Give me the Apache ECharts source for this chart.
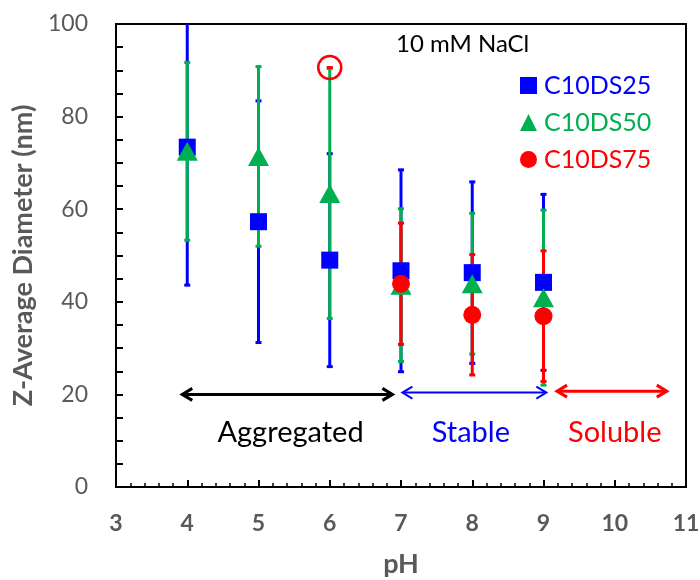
<!DOCTYPE html>
<html><head><meta charset="utf-8">
<script src="https://cdn.jsdelivr.net/npm/echarts@6/dist/echarts.min.js"></script>
<style>html,body{margin:0;padding:0;background:#fff}#c{width:700px;height:580px}</style>
</head><body><div id="c"></div>
<script>
// ---- data ----
const pH = [4, 5, 6, 7, 8, 9];
const ds25Mean = [73.4, 57.3, 49.0, 46.7, 46.3, 44.2];
const ds25Err  = [29.8, 26.1, 23.0, 21.8, 19.6, 19.0];
const ds50Mean = [72.5, 71.4, 63.4, 43.6, 43.9, 40.9];
const ds50Err  = [19.2, 19.4, 27.0, 16.5, 15.2, 18.9];
const ds75pH   = [7, 8, 9];
const ds75Mean = [43.9, 37.2, 36.9];
const ds75Err  = [13.1, 13.0, 14.1];
const seriesNames = ['C10DS25', 'C10DS50', 'C10DS75'];
const xTicks = [3, 4, 5, 6, 7, 8, 9, 10, 11];
const yTicks = [0, 20, 40, 60, 80, 100];
// annotations (data units)
const highlightPoint = [6, 90.6];
const regionNames = ['Aggregated', 'Stable', 'Soluble'];
const regionFrom  = [3.93, 7.02, 9.19];
const regionTo    = [6.88, 9.04, 10.73];
const regionArrowY = [20.0, 20.4, 20.7];
const regionTextX = [5.45, 7.98, 10.0];
const regionTextY = 11.7;

const BLUE = '#0000FF', GREEN = '#00B050', RED = '#FF0000';
const regionColors = ['#000000', BLUE, RED];
const FONT = 'Lato';

function errSeries(name, xs, means, errs, color, lw) {
  return {
    name: name + ' err', type: 'custom', z: 2, clip: true,
    data: xs.map((x, i) => [x, means[i], errs[i]]),
    renderItem: function (params, api) {
      const x = api.value(0), m = api.value(1), e = api.value(2);
      const t = api.coord([x, m + e]), b = api.coord([x, m - e]);
      const cw = 3;
      return { type: 'group', children: [
        { type: 'line', shape: { x1: t[0], y1: t[1], x2: b[0], y2: b[1] }, style: { stroke: color, lineWidth: lw } },
        { type: 'line', shape: { x1: t[0] - cw, y1: t[1], x2: t[0] + cw, y2: t[1] }, style: { stroke: color, lineWidth: 3 } },
        { type: 'line', shape: { x1: b[0] - cw, y1: b[1], x2: b[0] + cw, y2: b[1] }, style: { stroke: color, lineWidth: 3 } }
      ]};
    }
  };
}

const chart = echarts.init(document.getElementById('c'));
chart.setOption({
  animation: false,
  backgroundColor: '#fff',
  grid: { left: 116, right: 14, top: 24, bottom: 93, containLabel: false, outerBoundsMode: 'none',
          show: true, borderColor: '#000', borderWidth: 2, backgroundColor: 'transparent' },
  xAxis: {
    type: 'value', min: xTicks[0], max: xTicks[xTicks.length - 1], interval: 1,
    name: 'pH', nameLocation: 'middle', nameGap: 64,
    nameTextStyle: { fontFamily: FONT, fontWeight: 'bold', fontSize: 27, color: '#595959' },
    axisLine: { lineStyle: { color: '#000', width: 2 } },
    axisTick: { inside: true, length: 7, lineStyle: { color: '#000', width: 2 } },
    minorTick: { show: true, splitNumber: 5, length: 4, lineStyle: { color: '#000', width: 1.5 } },
    splitLine: { show: false },
    axisLabel: { margin: 25, fontFamily: FONT, fontWeight: 'bold', fontSize: 23, color: '#595959' }
  },
  yAxis: {
    type: 'value', min: yTicks[0], max: yTicks[yTicks.length - 1], interval: 20,
    name: 'Z-Average Diameter (nm)', nameLocation: 'middle', nameGap: 75,
    nameTextStyle: { fontFamily: FONT, fontWeight: 'bold', fontSize: 27, color: '#595959' },
    axisLine: { lineStyle: { color: '#000', width: 2 } },
    axisTick: { inside: true, length: 7, lineStyle: { color: '#000', width: 2 } },
    minorTick: { show: true, splitNumber: 4, length: 7, lineStyle: { color: '#000', width: 2 } },
    splitLine: { show: false },
    axisLabel: { margin: 28, fontFamily: FONT, fontSize: 23, color: '#595959' }
  },
  legend: {
    orient: 'vertical', left: 515, top: 68, itemGap: 12, itemWidth: 17, itemHeight: 17,
    textStyle: { fontFamily: FONT, fontSize: 25, padding: [0, 0, 0, 2] },
    data: [
      { name: seriesNames[0], icon: 'rect', textStyle: { color: BLUE } },
      { name: seriesNames[1], icon: 'triangle', textStyle: { color: GREEN } },
      { name: seriesNames[2], icon: 'circle', textStyle: { color: RED } }
    ]
  },
  graphic: [
    { type: 'text', left: 396, top: 32, style: { text: '10 mM NaCl', font: '24px Lato', fill: '#000' } }
  ],
  series: [
    errSeries(seriesNames[0], pH, ds25Mean, ds25Err, BLUE, 3),
    errSeries(seriesNames[1], pH, ds50Mean, ds50Err, GREEN, 3),
    errSeries(seriesNames[2], ds75pH, ds75Mean, ds75Err, RED, 3),
    { name: seriesNames[0], type: 'scatter', z: 3, symbol: 'rect', symbolSize: 17, itemStyle: { color: BLUE, opacity: 1 },
      data: pH.map((x, i) => [x, ds25Mean[i]]) },
    { name: seriesNames[1], type: 'scatter', z: 4, symbol: 'triangle', symbolSize: [21, 19], itemStyle: { color: GREEN, opacity: 1 },
      data: pH.map((x, i) => [x, ds50Mean[i]]) },
    { name: seriesNames[2], type: 'scatter', z: 5, symbol: 'circle', symbolSize: 18, itemStyle: { color: RED, opacity: 1 },
      data: ds75pH.map((x, i) => [x, ds75Mean[i]]) },
    { name: 'highlight', type: 'custom', z: 6, data: [highlightPoint],
      renderItem: function (params, api) {
        const p = api.coord([api.value(0), api.value(1)]);
        return { type: 'group', children: [
          { type: 'circle', shape: { cx: p[0], cy: p[1], r: 11.5 }, style: { fill: 'none', stroke: RED, lineWidth: 2.5 } },
          { type: 'rect', shape: { x: p[0] - 3, y: p[1] - 1.5, width: 6, height: 3 }, style: { fill: RED } }
        ]};
      } },
    { name: 'regions', type: 'custom', z: 6,
      data: regionNames.map((n, i) => [regionFrom[i], regionTo[i], regionArrowY[i], regionTextX[i], i]),
      renderItem: function (params, api) {
        const i = api.value(4);
        const a = api.coord([api.value(0), api.value(2)]);
        const b = api.coord([api.value(1), api.value(2)]);
        const t = api.coord([api.value(3), regionTextY]);
        const col = regionColors[i];
        const lw = i === 1 ? 2 : 3;
        const L = 10, H = 6;
        return { type: 'group', children: [
          { type: 'line', shape: { x1: a[0] + 1, y1: a[1], x2: b[0] - 1, y2: b[1] }, style: { stroke: col, lineWidth: lw } },
          { type: 'polyline', shape: { points: [[a[0] + L, a[1] - H], [a[0], a[1]], [a[0] + L, a[1] + H]] }, style: { stroke: col, lineWidth: lw, fill: null } },
          { type: 'polyline', shape: { points: [[b[0] - L, b[1] - H], [b[0], b[1]], [b[0] - L, b[1] + H]] }, style: { stroke: col, lineWidth: lw, fill: null } },
          { type: 'text', x: t[0], y: t[1], style: { text: regionNames[i], font: '29px Lato', fill: col, align: 'center', verticalAlign: 'middle' } }
        ]};
      } }
  ]
});
</script></body></html>
